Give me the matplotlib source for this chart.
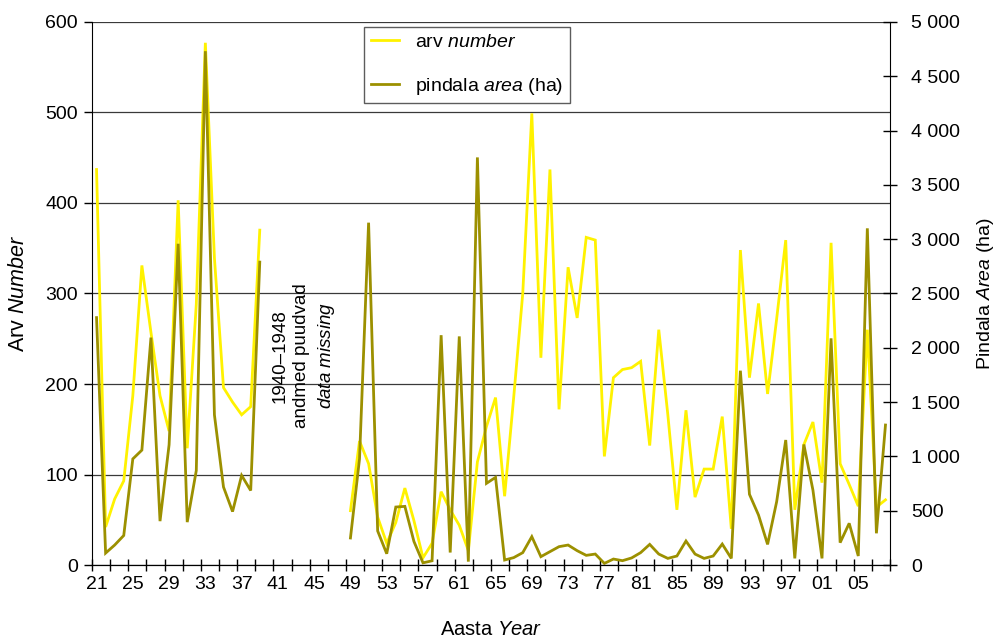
import matplotlib
matplotlib.use('Agg')
import matplotlib.pyplot as plt
import numpy as np
from matplotlib import font_manager
from matplotlib.ticker import FixedLocator, FuncFormatter
#====================================================================
''' Data read off the chart (None = 1940-1948 missing) '''
years = list(range(1921, 2009))

arv = [437, 42, 73, 93, 187, 331, 257, 187, 148, 403,       # 1921-30
       129, 288, 577, 339, 196, 180, 166, 175, 370,         # 1931-39
       None, None, None, None, None, None, None, None, None,  # 1940-48
       60, 137, 112, 53, 24, 47, 85, 49, 8, 24,             # 1949-58
       81, 61, 44, 16, 114, 153, 185, 76, 185, 300,         # 1959-68
       499, 229, 437, 172, 329, 273, 362, 359, 120, 207,    # 1969-78
       216, 218, 225, 132, 260, 166, 61, 171, 75, 106,      # 1979-88
       106, 164, 40, 348, 207, 289, 189, 272, 359, 61,      # 1989-98
       133, 158, 91, 356, 112, 89, 65, 260, 64, 72]         # 1999-08

pindala = [2278, 110, 184, 272, 977, 1058, 2094, 404, 1107, 2958,
           395, 870, 4731, 1382, 718, 492, 825, 686, 2789,
           None, None, None, None, None, None, None, None, None,
           249, 977, 3152, 314, 104, 534, 540, 217, 20, 39,
           2116, 115, 2105, 31, 3753, 752, 807, 46, 68, 114,
           261, 77, 123, 169, 184, 132, 89, 101, 15, 55,
           40, 65, 114, 190, 101, 61, 83, 221, 101, 61,
           83, 193, 61, 1789, 651, 460, 190, 583, 1151, 61,
           1110, 690, 61, 2087, 206, 384, 83, 3100, 292, 1289]

label_years = list(range(1921, 2006, 4))
#====================================================================
names = {f.name for f in font_manager.fontManager.ttflist}
regular = 'Liberation Sans' if 'Liberation Sans' in names else 'DejaVu Sans'
narrow = 'Liberation Sans Narrow' if 'Liberation Sans Narrow' in names else regular

plt.rcParams['font.family'] = [regular, 'DejaVu Sans']
plt.rcParams['mathtext.fontset'] = 'custom'
plt.rcParams['mathtext.rm'] = regular
plt.rcParams['mathtext.it'] = regular + ':italic'

yellow = '#FFF200'
olive = '#9C9000'

fig = plt.figure(figsize=(9.99, 6.37), dpi=100)
ax1 = fig.add_axes([0.0921, 0.1130, 0.7988, 0.8525])
ax2 = ax1.twinx()

x = np.array(years, dtype=float)
y1 = np.array(arv, dtype=float)
y2 = np.array(pindala, dtype=float)

l1, = ax1.plot(x, y1, color=yellow, lw=2.0, solid_joinstyle='miter')
l2, = ax2.plot(x, y2, color=olive, lw=2.0, solid_joinstyle='miter')

ax1.set_xlim(1920.5, 2008.5)
ax1.set_ylim(0, 600)
ax2.set_ylim(0, 5000)

# grid
ax1.yaxis.grid(True, color='#3a3a3a', lw=0.9)
ax1.set_axisbelow(True)

# spines
for s in ['top', 'right']:
    ax1.spines[s].set_visible(False)
for s in ['top', 'left']:
    ax2.spines[s].set_visible(False)
ax1.spines['left'].set_color('black')
ax1.spines['bottom'].set_color('black')
ax2.spines['right'].set_color('black')

# x ticks: marks every 2 years, labels every 4
ax1.xaxis.set_major_locator(FixedLocator(label_years))
ax1.xaxis.set_major_formatter(FuncFormatter(lambda v, p: '%02d' % (int(round(v)) % 100)))
ax1.xaxis.set_minor_locator(FixedLocator(np.arange(1920.5, 2009, 2)))
ax1.tick_params(axis='x', which='major', length=0, pad=8, labelsize=14)
ax1.tick_params(axis='x', which='minor', direction='inout', length=9, width=1)
for t in ax1.get_xticklabels():
    t.set_family([narrow, 'DejaVu Sans'])

ax1.set_yticks(np.arange(0, 601, 100))
ax1.tick_params(axis='y', direction='out', length=6, width=1, pad=4, labelsize=14)

ax2.set_yticks(np.arange(0, 5001, 500))
ax2.yaxis.set_major_formatter(FuncFormatter(lambda v, p: f'{v:,.0f}'.replace(',', ' ')))
ax2.tick_params(axis='y', direction='inout', length=10, width=1, pad=10, labelsize=14)

# axis labels
ax1.set_ylabel(r'Arv $\mathit{Number}$', fontsize=15.5, family=[narrow, 'DejaVu Sans'], labelpad=12)
ax2.set_ylabel(r'Pindala $\mathit{Area}$ (ha)', fontsize=14, labelpad=11)
ax1.set_xlabel(r'Aasta $\mathit{Year}$', fontsize=14.5, family=[narrow, 'DejaVu Sans'], labelpad=19)

# missing data note
ax1.text(1943.9, 231, '1940\u20131948\nandmed puudvad\n' + r'$\mathit{data\ missing}$',
         rotation=90, ha='center', va='center', multialignment='center',
         fontsize=13.5, family=[narrow, 'DejaVu Sans'], linespacing=1.38)

leg = ax2.legend([l1, l2], [r'arv $\mathit{number}$', r'pindala $\mathit{area}$ (ha)'],
                 loc='upper left', bbox_to_anchor=(0.341, 0.991), fontsize=14,
                 frameon=True, fancybox=False, handlelength=1.45, handletextpad=0.8,
                 labelspacing=1.25, borderpad=0.35, borderaxespad=0)
leg.get_frame().set_edgecolor('#333333')
leg.get_frame().set_linewidth(1.0)

fig.savefig('out.png', dpi=100)
